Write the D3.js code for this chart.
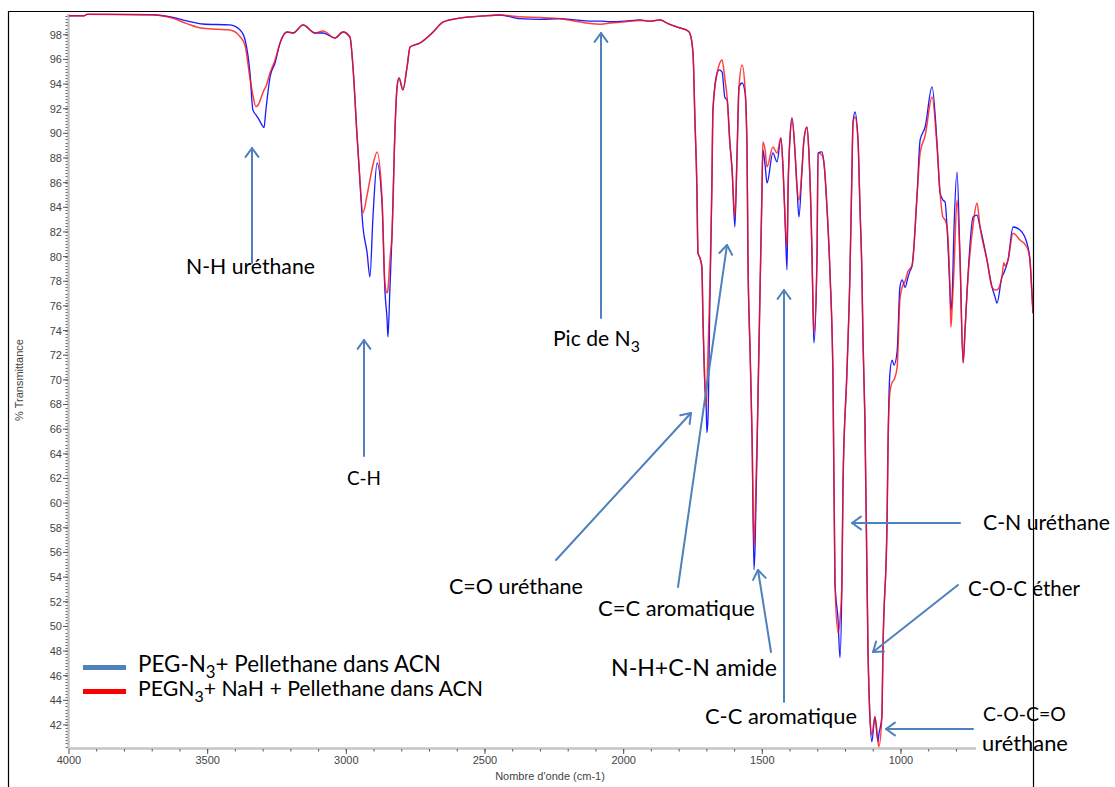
<!DOCTYPE html>
<html><head><meta charset="utf-8">
<script src="https://cdn.jsdelivr.net/npm/d3@7"></script>
<style>body{margin:0;background:#fff}svg{display:block}</style>
</head><body><div id="chart"></div>
<script>
// ---------- DATA ----------
const wavenumbers = [4000,3945,3935,3700,3625,3575,3517,3420,3383,3365,3347,3337,3326,3318,3304,3297,3290,3275,3257,3239,3214,3192,3156,3113,3084,3041,3012,2987,2976,2962,2954,2940,2925,2915,2904,2889,2871,2861,2853,2850,2843,2835,2825,2817,2810,2796,2781,2770,2734,2687,2651,2590,2507,2446,2374,2302,2230,2175,2121,2082,2049,1995,1941,1905,1869,1840,1797,1768,1761,1750,1743,1736,1732,1725,1718,1714,1707,1703,1700,1696,1689,1682,1678,1663,1656,1645,1635,1627,1617,1609,1599,1591,1584,1573,1562,1555,1552,1544,1537,1530,1526,1516,1508,1501,1498,1490,1483,1462,1447,1433,1425,1418,1411,1407,1400,1393,1382,1375,1368,1357,1350,1339,1332,1321,1317,1314,1303,1299,1285,1277,1267,1256,1245,1238,1227,1220,1213,1209,1195,1184,1177,1173,1166,1155,1148,1141,1137,1130,1119,1112,1105,1094,1083,1080,1069,1065,1050,1047,1040,1032,1025,1014,1004,996,985,975,968,960,942,931,913,888,870,859,849,841,834,823,820,816,809,798,787,776,769,762,740,726,715,690,672,661,654,636,629,625,614,596,571,546,535,528,524];
const bluePEGN3 = [99.54,99.54,99.65,99.62,99.40,99.13,98.87,98.79,98.38,97.57,94.80,91.90,91.50,91.24,90.67,90.46,91.90,94.57,95.70,97.33,98.22,98.14,98.79,98.14,98.14,97.73,98.22,97.81,95.38,90.03,87.20,82.40,80.30,78.35,83.21,87.59,84.20,77.30,74.86,73.48,77.30,81.90,90.03,93.76,94.49,93.52,95.38,97.00,97.33,98.22,99.03,99.35,99.52,99.60,99.30,99.25,99.30,99.20,99.10,99.10,99.05,99.10,99.20,99.10,99.20,98.90,98.55,98.30,98.10,96.52,91.08,85.65,80.30,79.89,79.16,74.86,69.43,68.40,65.71,66.80,76.48,85.65,91.89,94.89,95.14,94.97,92.90,92.70,89.22,87.03,82.40,88.41,93.76,94.08,93.27,88.41,80.30,72.19,65.38,54.59,56.60,68.14,77.54,85.65,88.65,87.43,85.97,88.41,87.68,89.62,87.03,82.97,78.92,85.65,89.70,91.24,88.41,85.65,83.21,87.03,89.46,90.51,88.41,80.30,75.67,73.00,79.73,88.41,88.50,87.43,84.03,78.67,69.76,53.54,50.54,47.46,53.54,61.65,70.57,78.67,86.78,90.84,91.73,89.46,84.03,78.67,73.24,66.74,48.11,42.67,40.64,42.67,40.64,41.20,42.67,48.11,58.89,64.33,70.50,71.60,71.20,72.30,77.50,78.11,77.50,78.30,78.80,79.27,85.00,89.46,90.51,93.76,89.22,85.16,84.60,84.43,82.40,77.05,75.67,76.48,82.16,86.87,79.73,71.38,74.05,77.05,83.21,83.37,82.40,79.73,77.54,76.73,76.22,78.35,78.67,78.92,79.73,82.40,82.16,81.10,79.73,77.05,75.41];
const redPEGN3NaH = [99.54,99.54,99.65,99.62,99.33,98.90,98.52,98.38,97.84,97.10,94.40,93.10,92.16,92.30,93.10,93.50,93.80,94.90,95.95,97.33,98.22,98.14,98.79,98.14,98.30,97.73,98.22,97.81,95.38,90.03,87.27,83.54,85.00,86.22,87.43,88.49,84.59,77.86,77.05,77.30,79.70,81.90,90.03,93.76,94.49,93.52,95.38,97.00,97.33,98.22,99.03,99.35,99.52,99.60,99.45,99.40,99.30,99.10,98.90,98.85,98.95,99.05,99.15,99.10,99.20,98.90,98.55,98.30,98.10,96.52,91.08,85.65,80.30,79.89,79.16,74.86,69.43,67.82,69.20,72.19,77.54,85.65,91.89,94.89,95.54,95.95,94.40,92.95,89.22,87.03,83.21,88.41,93.76,95.54,93.52,88.41,80.30,72.19,65.38,56.46,58.60,68.14,77.54,85.65,89.30,88.65,87.27,88.89,88.41,89.62,87.03,82.97,80.78,85.65,89.70,91.24,88.41,85.65,84.59,87.03,89.46,90.51,88.41,80.30,75.67,73.81,79.73,88.41,88.24,87.43,84.03,78.67,69.76,53.54,49.49,50.54,53.54,61.65,70.57,78.67,86.78,90.84,91.33,89.46,84.03,78.67,73.24,66.74,48.11,42.67,41.20,42.67,40.70,40.24,42.67,48.11,58.89,64.33,69.00,69.80,70.00,71.00,76.50,77.50,78.00,78.80,79.00,79.27,85.00,88.41,89.80,92.95,88.90,85.16,83.21,82.97,82.40,77.05,74.29,75.67,78.92,84.59,79.73,71.38,74.05,77.05,82.57,84.35,82.40,79.73,77.54,77.29,77.30,78.35,79.49,79.25,79.73,81.90,81.35,80.78,79.73,77.05,75.41];
const xTicks = [4000,3500,3000,2500,2000,1500,1000];
const yTicks = [42,44,46,48,50,52,54,56,58,60,62,64,66,68,70,72,74,76,78,80,82,84,86,88,90,92,94,96,98];
const seriesNames = [["PEG-N","3","+ Pellethane dans ACN"],["PEGN","3","+ NaH + Pellethane dans ACN"]];
const xTitle = "Nombre d'onde (cm-1)";
const yTitle = "% Transmittance";

// ---------- LAYOUT ----------
const W = 1115, H = 787;
const svg = d3.select("#chart").append("svg").attr("width", W).attr("height", H);
svg.append("rect").attr("width", W).attr("height", H).attr("fill", "#fff");

const x = d3.scaleLinear().domain([4000, 524]).range([69, 1033]);
const y = d3.scaleLinear().domain([40.13, 99.68]).range([748, 14]);

const axisFont = "'Liberation Sans', Arial, sans-serif";
const annFont = "Lato, 'Open Sans', sans-serif";
const arrowColor = "#4f81bd";

// axes
const ax = svg.append("g");
ax.append("line").attr("x1", 68.5).attr("x2", 68.5).attr("y1", 14).attr("y2", 749)
  .attr("stroke", "#c4c4c4").attr("stroke-width", 2.5);
ax.append("line").attr("x1", 68).attr("x2", 1033).attr("y1", 748.5).attr("y2", 748.5)
  .attr("stroke", "#c4c4c4").attr("stroke-width", 2.5);
ax.selectAll(".ym").data(d3.range(40.25, 99.7, 0.25)).join("line")
  .attr("x1", 65.5).attr("x2", 67.5).attr("y1", d => Math.round(y(d)) + 0.5).attr("y2", d => Math.round(y(d)) + 0.5)
  .attr("stroke", "#666").attr("stroke-width", 1);
ax.selectAll(".yM").data(yTicks).join("line")
  .attr("x1", 63).attr("x2", 68).attr("y1", d => y(d)).attr("y2", d => y(d))
  .attr("stroke", "#555").attr("stroke-width", 1);
ax.selectAll(".yl").data(yTicks).join("text")
  .attr("x", 62).attr("y", d => y(d) + 4).attr("text-anchor", "end")
  .attr("font-family", axisFont).attr("font-size", 11).attr("fill", "#444").text(d => d);
ax.selectAll(".xm").data(d3.range(3900, 524, -100)).join("line")
  .attr("x1", d => x(d)).attr("x2", d => x(d)).attr("y1", 749).attr("y2", 751.5)
  .attr("stroke", "#555").attr("stroke-width", 1);
ax.selectAll(".xM").data(xTicks).join("line")
  .attr("x1", d => x(d)).attr("x2", d => x(d)).attr("y1", 749).attr("y2", 754)
  .attr("stroke", "#555").attr("stroke-width", 1);
ax.selectAll(".xl").data(xTicks).join("text")
  .attr("x", d => x(d)).attr("y", 764).attr("text-anchor", "middle")
  .attr("font-family", axisFont).attr("font-size", 11).attr("fill", "#444").text(d => d);
ax.append("text").attr("x", 550).attr("y", 780).attr("text-anchor", "middle")
  .attr("font-family", axisFont).attr("font-size", 11).attr("fill", "#444").text(xTitle);
ax.append("text").attr("transform", "translate(23,380) rotate(-90)").attr("text-anchor", "middle")
  .attr("font-family", axisFont).attr("font-size", 11).attr("fill", "#444").text(yTitle);

// series
const pts = (vals) => wavenumbers.map((w, i) => [w, vals[i]]);
const line = d3.line().x(d => x(d[0])).y(d => y(d[1])).curve(d3.curveMonotoneX);
svg.append("path").attr("d", line(pts(bluePEGN3))).attr("fill", "none")
  .attr("stroke", "#1a1aff").attr("stroke-width", 1.3).attr("stroke-linejoin", "round");
svg.append("path").attr("d", line(pts(redPEGN3NaH))).attr("fill", "none")
  .attr("stroke", "#ff1010").attr("stroke-width", 1.5).attr("stroke-opacity", 0.8).attr("stroke-linejoin", "round");

// text helper: parts = array of [string, isSub]
function addText(parts, x0, yc, targetW) {
  const base = 19;
  const t = svg.append("text").attr("font-family", annFont).attr("font-size", base).attr("fill", "#000")
    .attr("x", x0).attr("y", yc + base * 0.35);
  parts.forEach(p => t.append("tspan").text(p[0]));
  const spans = t.selectAll("tspan").nodes();
  const setDy = (fs) => spans.forEach((s, i) => {
    const isSub = parts[i][1];
    const prevSub = i > 0 && parts[i - 1][1];
    d3.select(s).attr("font-size", isSub ? fs * 0.75 : null)
      .attr("dy", isSub ? fs * 0.25 : (prevSub ? -fs * 0.25 : null));
  });
  setDy(base);
  const w = t.node().getComputedTextLength();
  const fs = base * targetW / w;
  t.attr("font-size", fs).attr("y", yc + fs * 0.35);
  setDy(fs);
  return t;
}

// legend
const legendColors = ["#4f81bd", "#ff0000"];
const legendLineY = [667.5, 691.5];
const legendTextY = [664.5, 689];
const legendW = [303, 345];
seriesNames.forEach((nm, i) => {
  svg.append("line").attr("x1", 83).attr("x2", 126).attr("y1", legendLineY[i]).attr("y2", legendLineY[i])
    .attr("stroke", legendColors[i]).attr("stroke-width", 5);
  addText([[nm[0], false], [nm[1], true], [nm[2], false]], 138, legendTextY[i], legendW[i]);
});

// arrows
const arrowDefs = [
  [252, 263, 252, 148], [364, 456, 364, 340], [601, 318, 601, 33],
  [556, 560, 691, 413], [678, 587, 727, 245], [771, 652, 758, 570],
  [784, 702, 784, 290], [960, 523, 852, 523], [958, 585, 873, 652],
  [973, 729, 886, 729]
];
const ag = svg.append("g").attr("stroke", arrowColor).attr("stroke-width", 2).attr("fill", "none")
  .attr("stroke-linecap", "round").attr("stroke-linejoin", "round");
arrowDefs.forEach(a => {
  const [x1, y1, x2, y2] = a;
  ag.append("line").attr("x1", x1).attr("y1", y1).attr("x2", x2).attr("y2", y2);
  const ang = Math.atan2(y2 - y1, x2 - x1);
  const L = 11, sp = 0.62;
  const p1 = [x2 - L * Math.cos(ang - sp), y2 - L * Math.sin(ang - sp)];
  const p2 = [x2 - L * Math.cos(ang + sp), y2 - L * Math.sin(ang + sp)];
  ag.append("path").attr("d", `M${p1[0]},${p1[1]}L${x2},${y2}L${p2[0]},${p2[1]}`);
});

// annotation labels
svg.append("rect").attr("x", 976).attr("y", 700).attr("width", 57).attr("height", 56).attr("fill", "#fff");
addText([["N-H uréthane", false]], 186, 267, 129);
addText([["C-H", false]], 347, 478, 34);
addText([["Pic de N", false], ["3", true]], 553, 339, 87);
addText([["C=O uréthane", false]], 449, 586, 134);
addText([["C=C aromatique", false]], 598, 608, 157);
addText([["N-H+C-N amide", false]], 611, 668, 166);
addText([["C-C aromatique", false]], 705, 716, 152);
addText([["C-N uréthane", false]], 983, 523, 127);
addText([["C-O-C éther", false]], 968, 589, 112);
addText([["C-O-C=O", false]], 983, 714, 83);
addText([["uréthane", false]], 982, 743, 86);

// outer frame
svg.append("path").attr("d", "M8.5,787V11.5H1033.5V787").attr("fill", "none")
  .attr("stroke", "#000").attr("stroke-width", 1.2);
</script>
</body></html>
